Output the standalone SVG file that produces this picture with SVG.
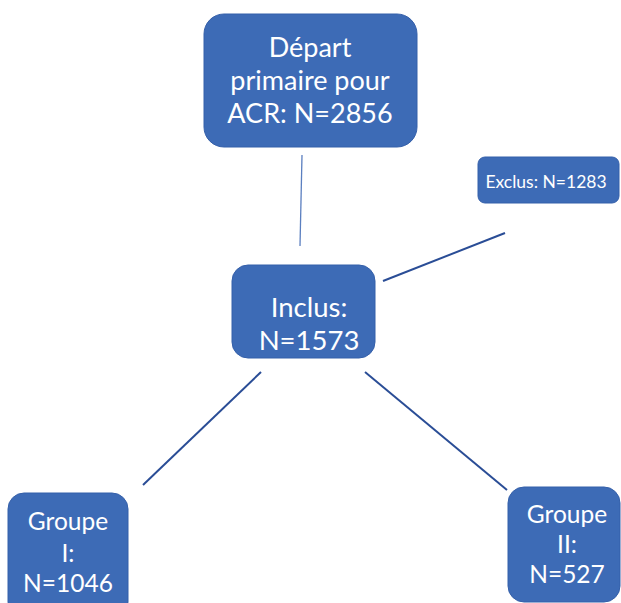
<svg xmlns="http://www.w3.org/2000/svg" width="621" height="603" viewBox="0 0 621 603">
<style>
.box{fill:#3d6bb6;stroke:#3560aa;stroke-width:1}
.t{font-family:Lato,"Open Sans",sans-serif;fill:#ffffff;text-anchor:middle}
.c{stroke:#2a4d96;stroke-width:2;fill:none}
</style>
<rect width="621" height="603" fill="#ffffff"/>
<g id="connectors">
<line class="c" x1="302" y1="155" x2="300" y2="246" style="stroke:#5b7fc0;stroke-width:1.3"/>
<line class="c" x1="383" y1="281" x2="505" y2="233"/>
<line class="c" x1="261" y1="372" x2="143" y2="485"/>
<line class="c" x1="365" y1="372" x2="507" y2="490"/>
</g>
<g id="depart">
<rect class="box" x="204" y="14" width="213" height="133" rx="20"/>
<text class="t" font-size="27"><tspan x="310" y="57">Départ</tspan><tspan x="310" y="90">primaire pour</tspan><tspan x="310" y="123">ACR: N=2856</tspan></text>
</g>
<g id="exclus">
<rect class="box" x="478" y="157" width="141" height="46" rx="7"/>
<text class="t" font-size="17.5" x="546" y="188">Exclus: N=1283</text>
</g>
<g id="inclus">
<rect class="box" x="232" y="265" width="143" height="93" rx="16"/>
<text class="t" font-size="27.5"><tspan x="309" y="317">Inclus:</tspan><tspan x="309" y="350">N=1573</tspan></text>
</g>
<g id="groupe1">
<rect class="box" x="8" y="493" width="120" height="125" rx="16"/>
<text class="t" font-size="24.5"><tspan x="68" y="530">Groupe</tspan><tspan x="68" y="562">I:</tspan><tspan x="68" y="592">N=1046</tspan></text>
</g>
<g id="groupe2">
<rect class="box" x="508" y="487" width="112" height="115" rx="16"/>
<text class="t" font-size="24.5"><tspan x="567" y="523">Groupe</tspan><tspan x="567" y="553">II:</tspan><tspan x="567" y="583">N=527</tspan></text>
</g>
</svg>
